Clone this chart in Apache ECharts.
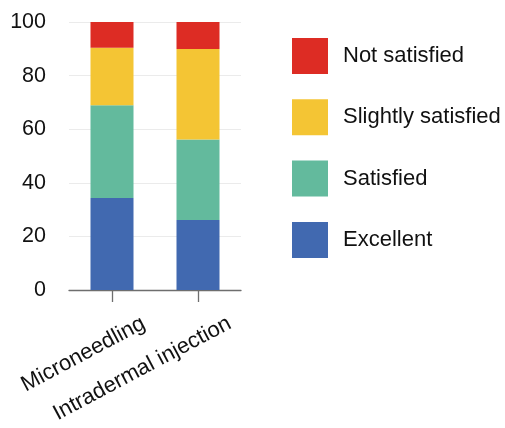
<!DOCTYPE html>
<html>
<head>
<meta charset="utf-8">
<script src="https://cdn.jsdelivr.net/npm/echarts@6/dist/echarts.min.js"></script>
<style>
  html, body { margin: 0; padding: 0; background: #fff; }
  #chart { width: 505px; height: 428px; }
</style>
</head>
<body>
<div id="chart"></div>
<script>
// Treatment groups and satisfaction shares (%)
const categories = ['Microneedling', 'Intradermal injection'];
const excellent = [34.3, 26.1];
const satisfied = [34.6, 30.1];
const slightlySatisfied = [21.5, 33.7];
const notSatisfied = [9.6, 10.1];
const yTicks = [0, 20, 40, 60, 80, 100];

const FONT = '"Liberation Sans", Arial, sans-serif';

const seriesDefs = [
  { name: 'Excellent', data: excellent, color: '#4169B0' },
  { name: 'Satisfied', data: satisfied, color: '#63BA9D' },
  { name: 'Slightly satisfied', data: slightlySatisfied, color: '#F4C534' },
  { name: 'Not satisfied', data: notSatisfied, color: '#DD2C24' }
];

const chart = echarts.init(document.getElementById('chart'), null, { renderer: 'canvas' });

chart.setOption({
  animation: false,
  backgroundColor: '#ffffff',
  textStyle: { fontFamily: FONT },
  grid: { left: 69, top: 22, width: 172, height: 268, containLabel: false },
  legend: {
    orient: 'vertical',
    left: 287,
    top: 33,
    icon: 'rect',
    itemWidth: 36,
    itemHeight: 36,
    itemGap: 25.3,
    data: ['Not satisfied', 'Slightly satisfied', 'Satisfied', 'Excellent'],
    textStyle: { fontFamily: FONT, fontSize: 22, color: '#111', padding: [6, 0, 0, 10] }
  },
  xAxis: {
    type: 'category',
    data: categories,
    axisLine: { show: true, lineStyle: { color: '#6e6e6e', width: 1.3 } },
    axisTick: { show: true, alignWithLabel: true, length: 12, lineStyle: { color: '#6e6e6e', width: 1.3 } },
    axisLabel: {
      rotate: 28,
      margin: 49,
      fontSize: 22,
      fontFamily: FONT,
      color: '#111',
      padding: [0, -36, 0, 0]
    }
  },
  yAxis: {
    type: 'value',
    min: yTicks[0],
    max: yTicks[yTicks.length - 1],
    interval: 20,
    axisLine: { show: false },
    axisTick: { show: false },
    splitLine: { show: true, lineStyle: { color: '#ebebeb', width: 1 } },
    axisLabel: { fontSize: 21.5, fontFamily: FONT, color: '#111', margin: 23 }
  },
  series: seriesDefs.map(s => ({
    name: s.name,
    type: 'bar',
    stack: 'total',
    barWidth: '50%',
    data: s.data,
    itemStyle: { color: s.color }
  }))
});
</script>
</body>
</html>
